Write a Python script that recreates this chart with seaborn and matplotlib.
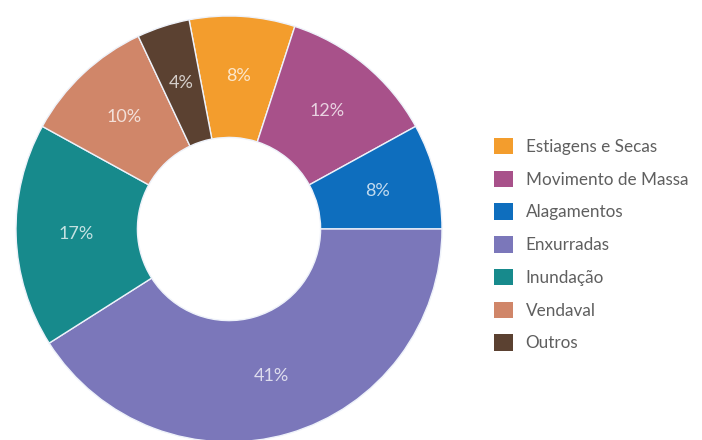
import matplotlib
matplotlib.use("Agg")
import matplotlib.pyplot as plt
import seaborn as sns
from matplotlib.patches import Patch

categories = ["Estiagens e Secas", "Movimento de Massa", "Alagamentos", "Enxurradas",
              "Inundação", "Vendaval", "Outros"]
values = [8, 12, 8, 41, 17, 10, 4]
labels = ["8%", "12%", "8%", "41%", "17%", "10%", "4%"]
hex_colors = ["#F39D2D", "#A8518A", "#0E6EBE", "#7B77BA", "#178A8C", "#D08669", "#5B4131"]

sns.set_theme(style="white")
plt.rcParams["font.family"] = ["Lato", "DejaVu Sans"]
palette = sns.color_palette(hex_colors)

fig = plt.figure(figsize=(7.02, 4.40), dpi=100)
fig.patch.set_facecolor("white")
W, H = 702, 440
cx, cy, r = 229, 229, 213
ax = fig.add_axes([(cx - r) / W, (H - cy - r) / H, 2 * r / W, 2 * r / H])

wedges, texts = ax.pie(values, colors=palette, startangle=100.8, counterclock=False,
                       radius=1.0, labels=labels, labeldistance=0.72,
                       wedgeprops=dict(width=0.57, edgecolor="#EEF2FA", linewidth=1.0),
                       textprops=dict(color="white", alpha=0.75, fontsize=13,
                                      ha="center", va="center"))
ax.set_xlim(-1, 1)
ax.set_ylim(-1, 1)
ax.set_aspect("auto")
ax.axis("off")

handles = [Patch(facecolor=c, edgecolor="none") for c in palette]
leg = fig.legend(handles, categories, loc="upper left",
                 bbox_to_anchor=(494 / W, 1 - 138 / H), frameon=False,
                 fontsize=12.3, handlelength=1.1, handleheight=1.1,
                 handletextpad=0.75, labelspacing=0.92, borderaxespad=0,
                 borderpad=0)
for t in leg.get_texts():
    t.set_color("#5f5f5f")

fig.savefig("out.png", dpi=100, facecolor="white")
